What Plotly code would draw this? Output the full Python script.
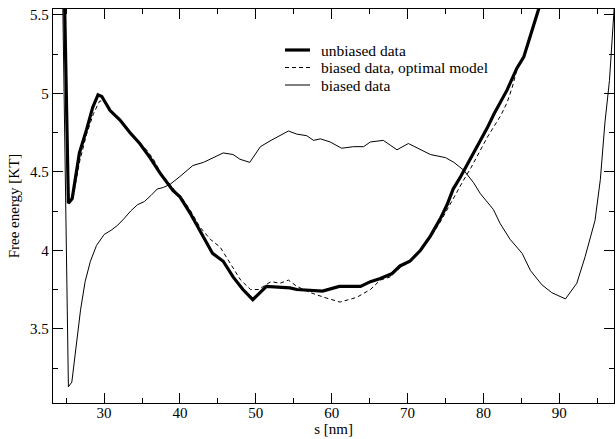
import plotly.graph_objects as go

# unbiased data (thick solid)
s_unbiased = [24.75, 25.3, 25.8, 26.75, 27.7, 28.5, 29.2, 29.7, 30.8, 32.1, 33.4, 34.7, 36.05,
              37.4, 39.1, 40.0, 41.3, 42.6, 44.3, 45.7, 47.0, 48.3, 49.6, 51.4, 54.5, 55.4,
              58.8, 61.0, 63.8, 65.1, 66.4, 67.9, 69.0, 70.3, 71.7, 73.0, 74.3, 75.2, 76.0,
              77.0, 77.8, 78.6, 79.6, 80.5, 81.4, 82.3, 83.1, 84.4, 85.3, 86.2, 87.3, 88.0]
f_unbiased = [5.7, 4.30, 4.33, 4.62, 4.77, 4.91, 4.99, 4.98, 4.89, 4.83, 4.75, 4.68, 4.59,
              4.49, 4.38, 4.34, 4.24, 4.13, 3.98, 3.93, 3.83, 3.75, 3.685, 3.77, 3.76, 3.75,
              3.74, 3.77, 3.77, 3.80, 3.82, 3.85, 3.90, 3.93, 4.00, 4.09, 4.20, 4.29, 4.39,
              4.47, 4.54, 4.62, 4.70, 4.78, 4.87, 4.95, 5.02, 5.16, 5.23, 5.37, 5.53, 5.65]

# biased data, optimal model (dashed)
s_model = [24.75, 25.35, 25.9, 26.8, 27.7, 28.6, 29.4, 30.0, 30.8, 31.6, 32.3, 33.4, 34.7,
           35.6, 36.5, 37.4, 38.5, 39.5, 40.3, 41.3, 42.6, 44.0, 45.3, 46.6, 48.0, 49.3,
           50.4, 51.3, 52.0, 53.2, 54.3, 55.4, 57.2, 59.0, 61.1, 63.3, 65.1, 66.4, 67.7,
           69.0, 70.3, 71.7, 73.0, 74.3, 75.3, 76.3, 77.3, 78.4, 79.6, 80.5, 81.4, 82.3,
           83.1, 83.8, 84.4, 85.3, 86.2, 87.3, 88.0]
f_model = [5.7, 4.31, 4.34, 4.57, 4.74, 4.87, 4.95, 4.95, 4.88, 4.86, 4.82, 4.74, 4.68,
           4.64, 4.58, 4.50, 4.43, 4.37, 4.33, 4.26, 4.15, 4.07, 4.02, 3.92, 3.81, 3.75,
           3.75, 3.78, 3.80, 3.79, 3.81, 3.77, 3.73, 3.70, 3.67, 3.70, 3.75, 3.81, 3.83,
           3.89, 3.93, 4.00, 4.08, 4.18, 4.27, 4.36, 4.44, 4.53, 4.64, 4.72, 4.79, 4.86,
           4.94, 5.04, 5.15, 5.23, 5.37, 5.53, 5.65]

# biased data (thin solid)
s_biased = [24.55, 25.3, 25.75, 26.3, 26.9, 27.5, 28.2, 29.0, 30.0, 31.0, 31.8, 32.6, 33.5,
            34.4, 35.3, 36.2, 37.0, 37.8, 38.7, 40.0, 41.7, 43.1, 44.4, 45.7, 47.0, 47.9,
            49.2, 50.6, 52.0, 53.2, 54.3, 55.4, 56.7, 57.6, 58.5, 59.8, 61.3, 62.9, 64.2,
            65.1, 66.8, 67.7, 68.6, 70.1, 71.7, 73.0, 75.0, 76.1, 77.4, 78.7, 79.6, 81.3,
            82.2, 83.5, 85.1, 86.2, 87.7, 89.0, 90.8, 92.3, 93.4, 94.7, 95.4, 96.0, 96.6, 97.3]
f_biased = [5.6, 3.13, 3.16, 3.38, 3.62, 3.80, 3.93, 4.03, 4.10, 4.13, 4.16, 4.20, 4.25,
            4.29, 4.31, 4.35, 4.39, 4.40, 4.42, 4.47, 4.54, 4.56, 4.59, 4.62, 4.61, 4.58,
            4.56, 4.66, 4.70, 4.73, 4.76, 4.74, 4.73, 4.70, 4.71, 4.69, 4.65, 4.66, 4.66,
            4.69, 4.70, 4.67, 4.64, 4.68, 4.64, 4.61, 4.59, 4.56, 4.51, 4.43, 4.36, 4.26,
            4.17, 4.07, 3.98, 3.87, 3.78, 3.73, 3.69, 3.79, 3.96, 4.19, 4.45, 4.81, 5.08, 5.6]

x_ticks = [30, 40, 50, 60, 70, 80, 90]
y_ticks = [3.5, 4, 4.5, 5, 5.5]
y_tick_labels = ["3.5", "4", "4.5", "5", "5.5"]

series_names = ["unbiased data", "biased data, optimal model", "biased data"]
series_widths = [3.2, 1, 1]
series_dash = ["solid", "4px,3px", "solid"]

FONT = "Liberation Serif"

fig = go.Figure()
for s, f, name, w, d in zip([s_unbiased, s_model, s_biased], [f_unbiased, f_model, f_biased],
                            series_names, series_widths, series_dash):
    fig.add_trace(go.Scatter(x=s, y=f, mode="lines", name=name, showlegend=False,
                             line=dict(color="black", width=w, dash=d)))

axis_common = dict(showgrid=False, zeroline=False, showline=True, linecolor="black",
                   linewidth=1.3, mirror="allticks", ticks="inside", ticklen=10,
                   tickcolor="black", tickwidth=1, automargin=False,
                   tickfont=dict(family=FONT, size=15, color="black"))

fig.update_xaxes(range=[23.27, 97.2], tickvals=x_ticks, ticklabelstandoff=-4,
                 title=dict(text="s [nm]", font=dict(family=FONT, size=15, color="black"), standoff=0),
                 minor=dict(ticks="inside", ticklen=5, tickcolor="black", tickwidth=1, tick0=25, dtick=10),
                 **axis_common)
fig.update_yaxes(range=[3.027, 5.537], tickvals=y_ticks, ticktext=y_tick_labels,
                 title=dict(text="Free energy [KT]", font=dict(family=FONT, size=15, color="black"), standoff=6),
                 minor=dict(ticks="inside", ticklen=5, tickcolor="black", tickwidth=1, tick0=3.25, dtick=0.5),
                 **axis_common)

# legend drawn as line samples + text (plot area: left 53px, width 561px, top 9px, height 394px)
PL, PW, PT, PH = 53, 561, 9, 394
legend_rows_px = [50, 67.5, 85]
for name, w, d, ypx in zip(series_names, series_widths, series_dash, legend_rows_px):
    yp = (PT + PH - ypx) / PH
    fig.add_shape(type="line", xref="paper", yref="paper",
                  x0=(285 - PL) / PW, x1=(310 - PL) / PW, y0=yp, y1=yp,
                  line=dict(color="black", width=w, dash=d))
    fig.add_annotation(xref="paper", yref="paper", x=(319 - PL) / PW, y=yp,
                       xanchor="left", yanchor="middle", showarrow=False, text=name,
                       font=dict(family=FONT, size=15.5, color="black"))

fig.update_layout(
    width=616, height=439,
    margin=dict(l=PL, r=2, t=PT, b=36),
    paper_bgcolor="white", plot_bgcolor="white",
    font=dict(family=FONT, size=15, color="black"),
    showlegend=False,
)

fig.write_html("out.html", config={"displayModeBar": False},
               post_script="document.body.style.margin='0';")
